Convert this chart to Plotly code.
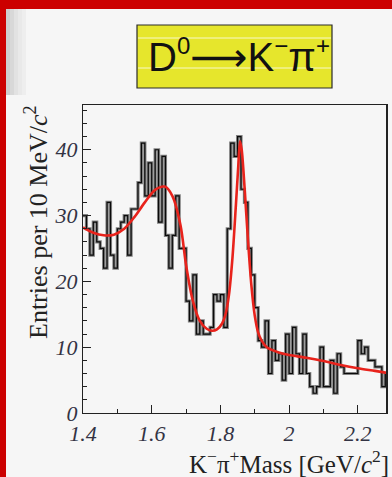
import plotly.graph_objects as go

# Histogram: entries per 10 MeV/c^2 bin, starting at 1.40 GeV/c^2
bin_start = 1.40
bin_width = 0.01
counts = [30, 28, 24, 29, 26, 25, 22, 32, 24, 22,
          28, 29, 30, 24, 31, 31, 35, 41, 33, 38,
          33, 40, 29, 39, 27, 22, 27, 33, 25, 25,
          17, 14, 21, 12, 14, 12, 12, 13, 18, 17,
          18, 13, 28, 41, 39, 42, 34, 32, 25, 21,
          16, 11, 10, 14, 6, 11, 8, 9, 5, 12,
          6, 13, 9, 6, 12, 6, 4, 3, 4, 10,
          4, 4, 8, 3, 9, 7, 6, 6, 6, 6,
          11, 9, 10, 8, 8, 7, 7, 4, 6]

# Fit curve (signal peaks on a falling background)
fit_x = [1.40, 1.43, 1.46, 1.49, 1.52, 1.55, 1.58, 1.61, 1.638, 1.66,
         1.684, 1.70, 1.72, 1.74, 1.76, 1.775, 1.79, 1.805, 1.815, 1.825,
         1.835, 1.845, 1.852, 1.857, 1.862, 1.87, 1.88, 1.89, 1.90, 1.91,
         1.92, 1.935, 1.97, 2.00, 2.05, 2.10, 2.15, 2.20, 2.25, 2.285]
fit_y = [28.2, 27.4, 27.0, 27.1, 28.0, 29.8, 32.0, 33.9, 34.4, 33.0,
         28.5, 22.5, 17.0, 14.0, 12.8, 12.5, 12.7, 13.6, 15.0, 18.0,
         23.5, 31.5, 37.5, 41.3, 40.0, 34.5, 26.5, 19.5, 14.8, 12.2,
         11.0, 10.0, 9.2, 8.8, 8.4, 7.9, 7.3, 6.8, 6.4, 6.1]

x_range = [1.40, 2.285]
y_range = [0, 46.8]

x_ticks = [1.4, 1.6, 1.8, 2.0, 2.2]
x_tick_text = ["1.4", "1.6", "1.8", "2", "2.2"]
y_ticks = [0, 10, 20, 30, 40]
y_tick_text = ["0", "10", "20", "30", "40"]

small = '<span style="font-size:24px">%s</span>'
title_text = ("D<sup>" + small % "0" + "</sup>⟶K<sup>" + small % "−"
              + "</sup>π<sup>" + small % "+" + "</sup>")
x_title = "K<sup>−</sup>π<sup>+</sup>Mass [GeV/<i>c</i><sup>2</sup>]"
y_title = "Entries per 10 MeV/<i>c</i><sup>2</sup>"

# Page geometry (pixels) and plot frame
W, H = 392, 477
L, R, T, B = 83, 387, 105, 413


def px(x):
    return (x - L) / (R - L)


def py(y):
    return (B - y) / (B - T)


edges = [bin_start + i * bin_width for i in range(len(counts) + 1)]
step_x = edges
step_y = counts + [counts[-1]]

fig = go.Figure()
fig.add_trace(go.Scatter(x=step_x, y=step_y, mode="lines", line_shape="hv",
                         line=dict(color="rgba(90,90,90,0.75)", width=3.2),
                         hoverinfo="skip", showlegend=False))
fig.add_trace(go.Scatter(x=step_x, y=step_y, mode="lines", line_shape="hv",
                         line=dict(color="#0a0a0a", width=1.2),
                         showlegend=False))
fig.add_trace(go.Scatter(x=fit_x, y=fit_y, mode="lines", line_shape="spline",
                         line=dict(color="#e8231c", width=2.6, smoothing=0.8),
                         showlegend=False))

serif = "Liberation Serif, Times New Roman, serif"
shapes = []
# red frame of the page
shapes.append(dict(type="rect", xref="paper", yref="paper", layer="below",
                   x0=px(0), x1=px(W), y0=py(9), y1=py(0),
                   fillcolor="#cc0000", line=dict(width=0)))
shapes.append(dict(type="rect", xref="paper", yref="paper", layer="below",
                   x0=px(0), x1=px(6), y0=py(H), y1=py(0),
                   fillcolor="#cc0000", line=dict(width=0)))
# soft shadow under the top-left corner
for i, a in enumerate([0.16, 0.12, 0.08, 0.05, 0.03]):
    shapes.append(dict(type="rect", xref="paper", yref="paper", layer="below",
                       x0=px(6 + i * 4), x1=px(10 + i * 4), y0=py(95), y1=py(9),
                       fillcolor="rgba(0,0,0,%.2f)" % a, line=dict(width=0)))
# yellow title box
shapes.append(dict(type="rect", xref="paper", yref="paper",
                   x0=px(137), x1=px(332), y0=py(88), y1=py(25),
                   fillcolor="#e6e62c", line=dict(color="#2a2a2a", width=1.2)))
for yy in (38, 68):
    shapes.append(dict(type="line", xref="paper", yref="paper",
                       x0=px(138), x1=px(331), y0=py(yy), y1=py(yy),
                       line=dict(color="rgba(255,255,255,0.75)", width=1)))
# heavier right edge of the frame
shapes.append(dict(type="line", xref="paper", yref="paper",
                   x0=1, x1=1, y0=0, y1=1,
                   line=dict(color="#222222", width=2)))

annotations = [
    dict(text=title_text, xref="paper", yref="paper", x=px(239), y=py(56),
         xanchor="center", yanchor="middle", showarrow=False,
         font=dict(family="Liberation Sans, DejaVu Sans, sans-serif", size=40,
                   color="#111111")),
    dict(text=y_title, xref="paper", yref="paper", x=px(36), y=py(103),
         xanchor="center", yanchor="top", textangle=-90, showarrow=False,
         font=dict(family=serif, size=26, color="#222222")),
    dict(text=x_title, xref="paper", yref="paper", x=px(391), y=py(462),
         xanchor="right", yanchor="middle", showarrow=False,
         font=dict(family=serif, size=25, color="#222222")),
]

fig.update_layout(
    width=W, height=H,
    margin=dict(l=L, r=W - R, t=T, b=H - B, pad=0),
    paper_bgcolor="#f6f6f6", plot_bgcolor="#f6f6f6",
    shapes=shapes, annotations=annotations, showlegend=False,
)
fig.update_xaxes(range=x_range, tickvals=x_ticks, ticktext=x_tick_text,
                 ticks="inside", ticklen=8, tickcolor="#222", tickwidth=1,
                 minor=dict(dtick=0.1, tick0=1.4, ticks="inside", ticklen=4,
                            tickcolor="#222"),
                 showline=True, linecolor="#222", linewidth=1.3, mirror=True,
                 showgrid=False, zeroline=False,
                 tickfont=dict(family=serif, size=22, color="#333344",
                               style="italic"))
fig.update_yaxes(range=y_range, tickvals=y_ticks, ticktext=y_tick_text,
                 ticks="inside", ticklen=8, tickcolor="#222", tickwidth=1,
                 minor=dict(dtick=2, tick0=0, ticks="inside", ticklen=4,
                            tickcolor="#222"),
                 showline=True, linecolor="#222", linewidth=1.3, mirror=True,
                 showgrid=False, zeroline=False,
                 tickfont=dict(family=serif, size=22, color="#333344",
                               style="italic"))

fig.write_html("out.html")
